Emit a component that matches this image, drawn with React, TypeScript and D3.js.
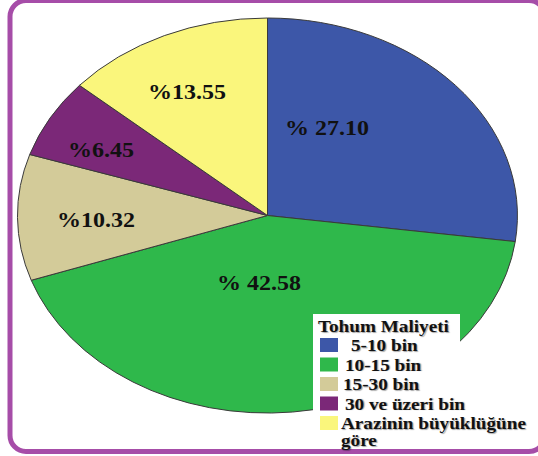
import React, { useEffect, useRef } from "react";
import * as d3 from "d3";

// Tohum maliyeti dağılımı (%)
const categories = ["5-10 bin", "10-15 bin", "15-30 bin", "30 ve üzeri bin", "Arazinin büyüklüğüne göre"];
const values = [27.1, 42.58, 10.32, 6.45, 13.55];
const labels = ["% 27.10", "% 42.58", "%10.32", "%6.45", "%13.55"];
const colors = ["#3D57A8", "#2FB84B", "#D3CB99", "#7B2878", "#FAF67C"];
// legend lines (last category wraps onto two lines)
const legendLines = [["5-10 bin"], ["10-15 bin"], ["15-30 bin"], ["30 ve üzeri bin"], ["Arazinin büyüklüğüne", "göre"]];

const W = 538;
const H = 456;

const App = () => {
  const svgRef = useRef<SVGSVGElement>(null);

  useEffect(() => {
    const svg = d3.select(svgRef.current);
    svg.selectAll("*").remove();

    const sx = 1.2; // text is a bit stretched horizontally in the original
    const font = "Liberation Serif, DejaVu Serif, serif";

    // frame
    svg
      .append("rect")
      .attr("x", 10)
      .attr("y", 0.5)
      .attr("width", 535)
      .attr("height", 451)
      .attr("rx", 16)
      .attr("fill", "#fff")
      .attr("stroke", "#A64DA8")
      .attr("stroke-width", 5);

    // elliptical pie: circle of radius 1 scaled to rx/ry
    const cx = 267.5;
    const cy = 215.5;
    const rx = 250;
    const ry = 197.5;

    const pie = d3
      .pie<number>()
      .sort(null)
      .value((d) => d);
    const arc = d3.arc<d3.PieArcDatum<number>>().innerRadius(0).outerRadius(1);

    const g = svg.append("g").attr("transform", `translate(${cx},${cy}) scale(${rx},${ry})`);
    g.selectAll("path")
      .data(pie(values))
      .enter()
      .append("path")
      .attr("d", arc)
      .attr("fill", (_, i) => colors[i])
      .attr("stroke", "#3a3a3a")
      .attr("stroke-width", 1)
      .attr("vector-effect", "non-scaling-stroke");

    // percentage labels (placed by hand like the original)
    const labelPos = [
      [285, 135],
      [217, 290],
      [57, 227],
      [68, 157],
      [148, 99],
    ];
    labels.forEach((t, i) => {
      svg
        .append("text")
        .attr("transform", `translate(${labelPos[i][0]},${labelPos[i][1]}) scale(${sx},1)`)
        .style("font-family", font)
        .style("font-weight", "bold")
        .style("font-size", "20px")
        .attr("fill", "#111")
        .text(t);
    });

    // legend
    const lg = svg.append("g");
    lg.append("rect").attr("x", 313).attr("y", 314).attr("width", 147).attr("height", 132).attr("fill", "#fff");

    const lgText = (x: number, y: number, t: string) =>
      lg
        .append("text")
        .attr("transform", `translate(${x},${y}) scale(${sx},1)`)
        .style("font-family", font)
        .style("font-weight", "bold")
        .style("font-size", "16px")
        .attr("fill", "#111")
        .style("text-shadow", "1px 1px 1px rgba(0,0,0,0.35)")
        .text(t);

    lgText(318, 332, "Tohum Maliyeti");

    const rowY = d3.scaleLinear().domain([0, 1]).range([338, 357.5]);
    const textX = [351, 345, 343, 345, 341];
    categories.forEach((c, i) => {
      const y = rowY(i);
      lg.append("rect")
        .attr("x", 320)
        .attr("y", y)
        .attr("width", 18)
        .attr("height", 14)
        .attr("fill", colors[i]);
      legendLines[i].forEach((line, j) => {
        lgText(textX[i], y + 13 + j * 17, line);
      });
    });
  }, []);

  return (
    <svg
      ref={svgRef}
      width={W}
      height={H}
      style={{ position: "absolute", left: 0, top: 0, background: "#fff" }}
    />
  );
};

export default App;
